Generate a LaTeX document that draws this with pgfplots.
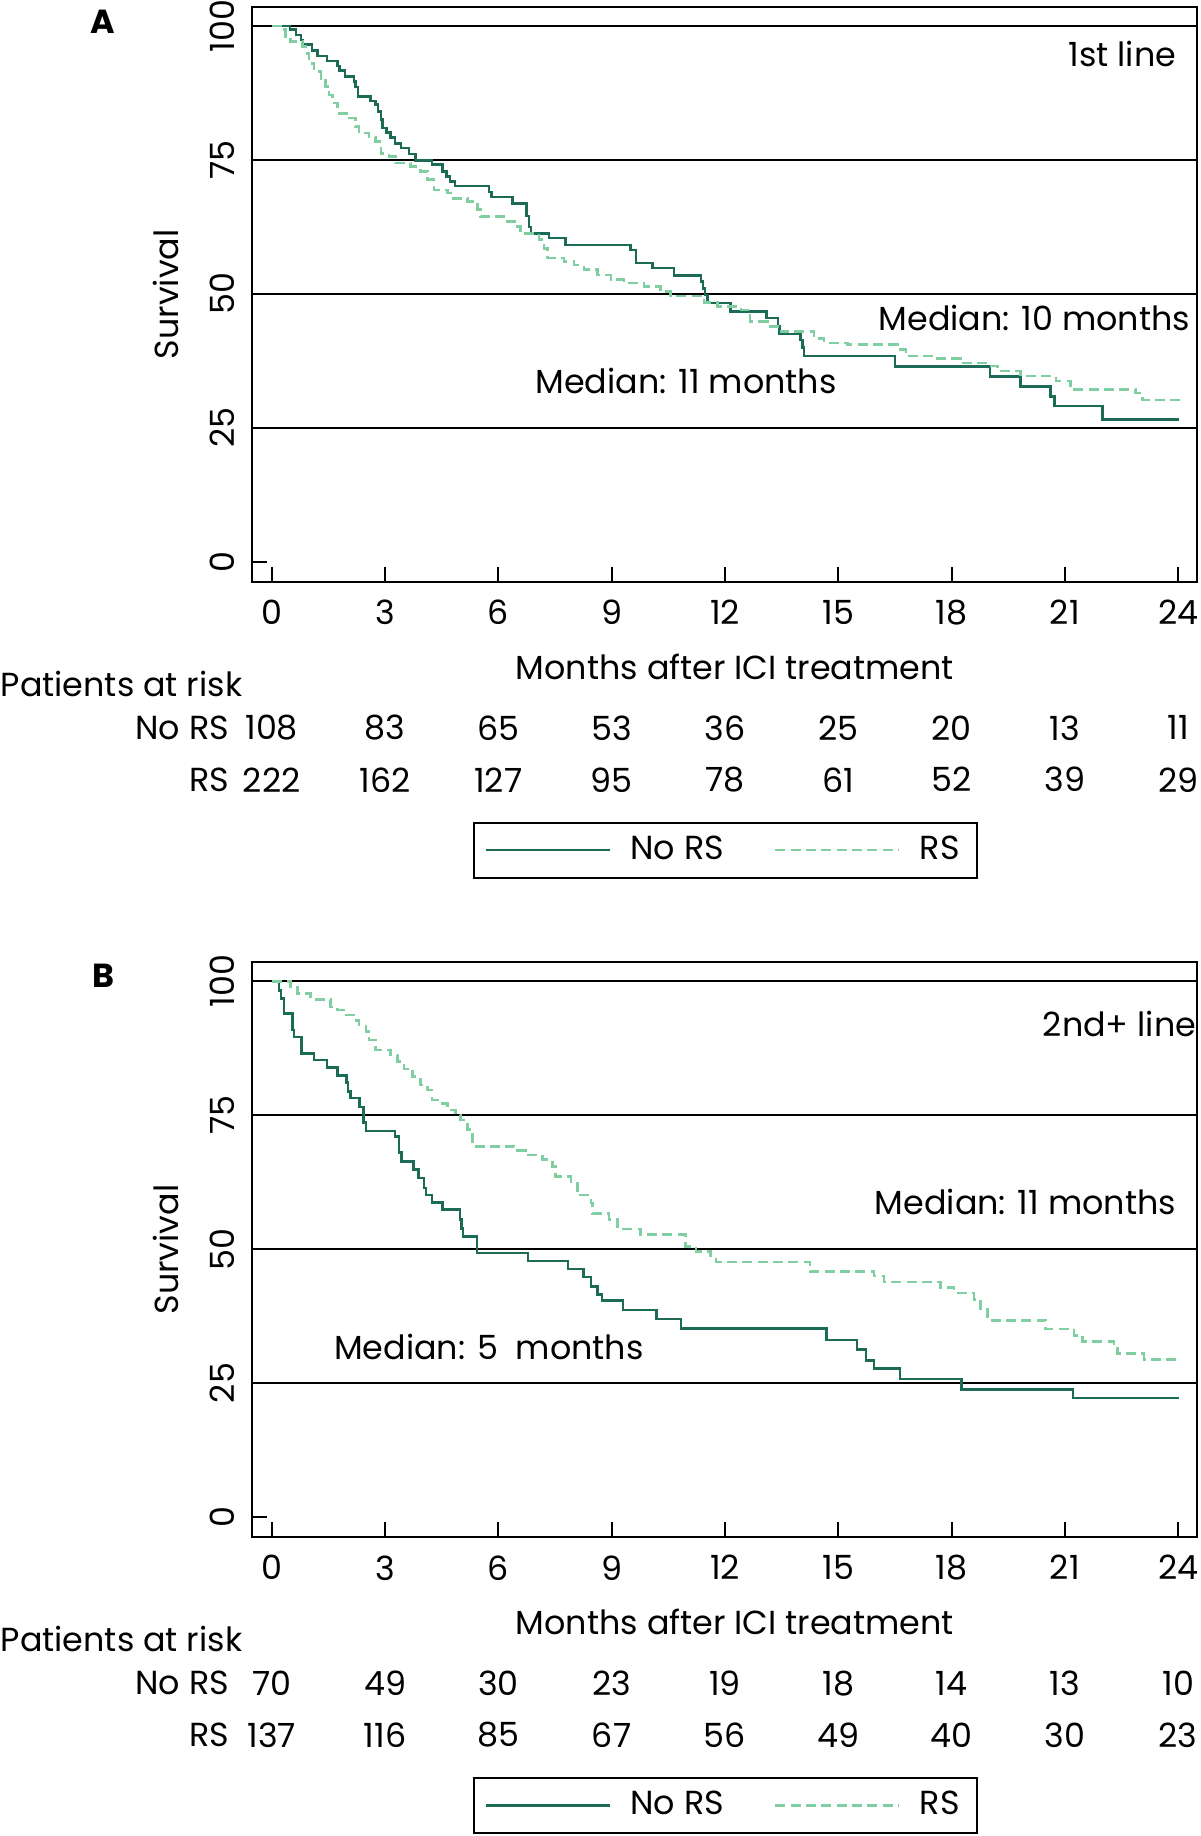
\documentclass[border=0pt]{standalone}
\usepackage{fontspec}
\setmainfont{Poppins}
\usepackage{pgfplots}
\pgfplotsset{compat=1.18}
\definecolor{nors}{HTML}{1B6B56}
\definecolor{rs}{HTML}{80CFA0}

% shared look of both Kaplan-Meier panels
\pgfplotsset{
  km/.style={
    scale only axis, width=283.5pt, height=172.5pt,
    xmin=-0.53, xmax=24.49, ymin=-3.73, ymax=103.6,
    xtick={0,3,...,24}, ytick={0,25,50,75,100},
    extra y ticks={25,50,75,100}, extra y tick labels={},
    extra y tick style={grid=major},
    major grid style={black, line width=0.6pt},
    tick pos=left, tick align=inside, major tick length=4.5pt,
    tick style={black, line width=0.6pt},
    axis line style={line width=0.6pt},
    /pgf/number format/assume math mode=true,
    xticklabel style={yshift=-2pt},
    yticklabel style={rotate=90, anchor=south, inner sep=5pt},
    xlabel={Months after ICI treatment},
    xlabel style={at={(axis description cs:0.5114,-0.148)}, anchor=center, inner sep=0pt},
    ylabel={Survival},
    ylabel style={at={(axis description cs:-0.0907,0.5)}, anchor=center, inner sep=0pt},
    clip=false,
    legend columns=2,
    legend style={at={(0.5014,-0.467)}, anchor=center, draw=black, line width=0.6pt,
      inner xsep=3.3pt, inner ysep=2pt, cells={anchor=west},
      /tikz/every odd column/.append style={column sep=3.8pt},
      /tikz/every even column/.append style={column sep=13pt}},
    legend image code/.code={\draw[#1] (0pt,0pt) -- (37.2pt,0pt);},
    nors line/.style={const plot, draw=nors, line width=0.75pt},
    rs line/.style={const plot, draw=rs, line width=0.75pt, dash pattern=on 3pt off 1.6pt},
    risk/.style={draw=none, mark=none, forget plot, nodes near coords,
      point meta=explicit symbolic, nodes near coords align=center,
      every node near coord/.style={anchor=center, inner sep=0pt, black}},
  }
}

\begin{document}
\begin{tikzpicture}
\useasboundingbox (0,0) rectangle (360pt,-550.8pt);

% ---------------- panel A: 1st line
\begin{axis}[km, at={(75.51pt,-174.51pt)}, anchor=south west]
\addplot[nors line] coordinates {
 (0,100)(0.49,99.3)(0.64,98.3)(0.77,97.4)(0.83,96.5)(1.06,95.4)(1.21,94.4)(1.46,93.5)
 (1.74,92.5)(1.80,91.7)(1.94,90.6)(2.18,89.6)(2.22,88.6)(2.29,86.8)(2.62,86.0)(2.75,85.3)
 (2.82,84.0)(2.89,82.5)(2.93,81.0)(3.04,80.1)(3.15,79.2)(3.26,78.1)(3.42,77.2)(3.64,76.1)
 (3.81,74.9)(4.25,74.1)(4.52,72.8)(4.63,71.9)(4.72,71.0)(4.85,70.1)(5.75,69.0)(5.82,68.1)
 (6.37,66.9)(6.74,64.5)(6.81,62.5)(6.86,61.3)(7.34,60.4)(7.78,59.1)(9.50,58.2)(9.64,55.8)
 (10.08,54.8)(10.65,53.4)(11.36,52.3)(11.42,51.0)(11.47,49.8)(11.54,48.3)(12.15,46.7)
 (13.10,45.5)(13.40,44.0)(13.45,42.5)(14.00,41.4)(14.05,40.0)(14.09,38.4)(16.50,36.4)
 (19.02,34.6)(19.83,32.7)(20.62,30.8)(20.73,29.1)(21.99,26.5)(24.02,26.5)};
\addlegendentry{No RS}
\addplot[rs line] coordinates {
 (0,100)(0.24,99.3)(0.37,97.9)(0.50,97.1)(0.81,96.2)(0.90,94.9)(0.99,93.0)(1.12,91.5)
 (1.30,90.2)(1.43,88.7)(1.52,87.1)(1.61,85.6)(1.74,83.7)(2.05,82.8)(2.22,81.2)(2.31,80.0)
 (2.58,79.3)(2.75,78.4)(2.89,76.2)(3.11,75.6)(3.28,74.4)(3.68,73.8)(3.94,72.8)(4.12,71.3)
 (4.30,69.4)(4.65,68.8)(4.74,67.8)(5.18,67.2)(5.45,65.7)(5.53,64.4)(6.15,63.5)(6.50,62.6)
 (6.59,61.3)(7.08,60.1)(7.21,58.5)(7.30,56.7)(7.74,56.0)(8.00,55.4)(8.27,54.5)(8.62,53.5)
 (8.98,52.7)(9.33,52.0)(9.86,51.4)(10.30,50.4)(10.56,49.6)(11.45,48.4)(11.80,47.6)
 (12.42,47.0)(12.66,44.8)(13.12,43.9)(13.48,43.0)(14.36,41.7)(14.62,40.8)(15.24,40.5)
 (16.57,39.6)(16.79,38.4)(17.54,37.9)(18.24,37.1)(19.04,36.5)(19.21,35.6)(19.83,34.7)
 (20.76,33.7)(21.15,32.1)(22.87,31.5)(23.05,30.2)(24.05,30.2)};
\addlegendentry{RS}
% patients at risk
\addplot[risk] table[meta=n] {
x y n
0 -31.0 108
3 -31.0 83
6 -31.0 65
9 -31.0 53
12 -31.0 36
15 -31.0 25
18 -31.0 20
21 -31.0 13
24 -31.0 11
};
\addplot[risk] table[meta=n] {
x y n
0 -40.7 222
3 -40.7 162
6 -40.7 127
9 -40.7 95
12 -40.7 78
15 -40.7 61
18 -40.7 52
21 -40.7 39
24 -40.7 29
};
\node[font=\bfseries, inner sep=0pt] at (axis cs:-4.46,100.7) {A};
\node[anchor=east, inner sep=0pt] at (axis cs:23.96,94.7) {1st line};
\node[anchor=east, inner sep=0pt] at (axis cs:24.33,45.5) {Median: 10 months};
\node[inner sep=0pt] at (axis cs:10.97,33.7) {Median: 11 months};
\node[anchor=west, inner sep=0pt] at (axis cs:-7.19,-22.8) {Patients at risk};
\node[anchor=east, inner sep=0pt] at (axis cs:-1.117,-31.0) {No RS};
\node[anchor=east, inner sep=0pt] at (axis cs:-1.117,-40.7) {RS};
\end{axis}

% ---------------- panel B: 2nd+ line
\begin{axis}[km, at={(75.51pt,-461.1pt)}, anchor=south west]
\addplot[nors line] coordinates {
 (0,100)(0.19,98.3)(0.24,96.8)(0.33,94.0)(0.55,90.9)(0.59,89.6)(0.79,86.5)(1.12,85.3)
 (1.46,83.9)(1.74,82.4)(1.98,81.1)(2.02,79.4)(2.09,78.2)(2.33,76.5)(2.43,73.6)(2.49,72.1)
 (3.26,71.0)(3.37,68.0)(3.44,66.4)(3.75,64.9)(3.88,63.3)(4.03,61.4)(4.08,60.1)(4.24,58.7)
 (4.52,57.4)(4.98,55.5)(5.02,53.9)(5.07,52.4)(5.43,49.3)(6.79,47.8)(7.85,46.3)(8.25,44.8)
 (8.45,43.0)(8.62,41.5)(8.75,40.4)(9.30,38.6)(10.19,37.0)(10.83,35.2)(14.69,33.0)
 (15.50,31.3)(15.74,29.2)(15.95,27.7)(16.63,25.8)(18.26,23.8)(21.22,22.2)(24.02,22.2)};
\addlegendentry{No RS}
\addplot[rs line] coordinates {
 (0,100)(0.50,98.9)(0.68,97.7)(1.03,96.6)(1.56,95.2)(1.74,94.6)(1.91,93.7)(2.18,92.7)
 (2.31,91.8)(2.49,90.6)(2.58,89.0)(2.75,87.2)(3.15,86.2)(3.33,85.0)(3.50,83.6)(3.73,82.2)
 (3.94,80.6)(4.12,79.7)(4.25,77.8)(4.52,77.2)(4.65,76.0)(4.87,75.0)(5.00,74.1)(5.18,72.3)
 (5.31,69.2)(6.42,68.4)(6.72,67.6)(7.17,66.7)(7.43,65.4)(7.52,63.6)(7.92,62.6)(8.09,60.1)
 (8.45,58.6)(8.49,56.7)(8.93,55.5)(9.15,53.8)(9.77,52.7)(10.96,50.5)(11.23,49.6)(11.62,48.7)
 (11.76,47.6)(14.25,45.8)(15.95,45.0)(16.21,43.9)(17.71,42.8)(18.07,41.8)(18.60,40.6)
 (18.77,38.7)(18.95,36.7)(20.49,35.1)(21.24,33.9)(21.46,32.8)(22.30,31.9)(22.39,30.5)
 (23.09,29.4)(24.0,29.4)};
\addlegendentry{RS}
\addplot[risk] table[meta=n] {
x y n
0 -31.0 70
3 -31.0 49
6 -31.0 30
9 -31.0 23
12 -31.0 19
15 -31.0 18
18 -31.0 14
21 -31.0 13
24 -31.0 10
};
\addplot[risk] table[meta=n] {
x y n
0 -40.7 137
3 -40.7 116
6 -40.7 85
9 -40.7 67
12 -40.7 56
15 -40.7 49
18 -40.7 40
21 -40.7 30
24 -40.7 23
};
\node[font=\bfseries, inner sep=0pt] at (axis cs:-4.46,101.1) {B};
\node[anchor=east, inner sep=0pt] at (axis cs:24.49,92.0) {2nd+ line};
\node[anchor=east, inner sep=0pt] at (axis cs:23.96,58.8) {Median: 11 months};
\node[inner sep=0pt] at (axis cs:5.75,31.7) {Median: 5\ \ months};
\node[anchor=west, inner sep=0pt] at (axis cs:-7.19,-22.8) {Patients at risk};
\node[anchor=east, inner sep=0pt] at (axis cs:-1.117,-31.0) {No RS};
\node[anchor=east, inner sep=0pt] at (axis cs:-1.117,-40.7) {RS};
\end{axis}
\end{tikzpicture}
\end{document}
